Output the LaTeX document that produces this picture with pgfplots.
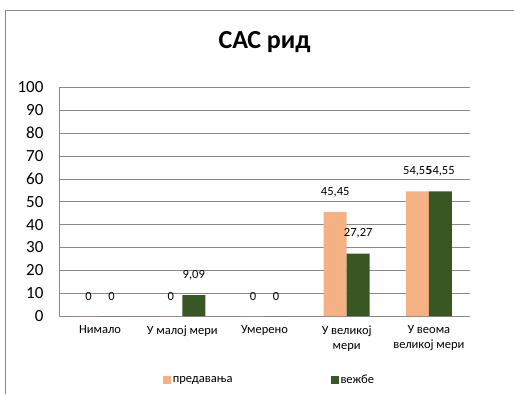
\documentclass[border=0pt]{standalone}
\usepackage{fontspec}
\setmainfont{Carlito}
\usepackage{pgfplots}
\pgfplotsset{compat=1.18}
\definecolor{lecture}{HTML}{F4B183}
\definecolor{exercise}{HTML}{385723}
\definecolor{gridgray}{HTML}{898989}

\begin{document}
\begin{tikzpicture}
\path[use as bounding box] (0,0) rectangle (514pt,394pt);
\draw[gridgray, line width=0.8pt] (5pt,0) -- (5pt,384pt) -- (514pt,384pt);
\begin{axis}[
    at={(59pt,78pt)}, anchor=south west,
    scale only axis,
    width=411pt, height=228.5pt,
    ybar=0pt, bar width=23pt,
    xmin=-0.5, xmax=4.5,
    ymin=0, ymax=100,
    ytick={0,10,...,100},
    xtick=data,
    xticklabels={Нимало, У малој мери, Умерено, {У великој\\мери}, {У веома\\великој мери}},
    xticklabel style={align=center, font=\fontsize{12.5}{15}\selectfont, yshift=-6pt},
    yticklabel style={font=\fontsize{17}{19}\selectfont, xshift=-12pt},
    major tick length=0pt,
    axis x line*=bottom, axis y line*=left,
    axis line style={draw=gridgray, line width=0.8pt, -},
    ymajorgrids, grid style={draw=gridgray, line width=0.8pt},
    /pgf/number format/.cd, use comma, fixed, precision=2, assume math mode=true,
    /pgfplots/.cd,
    nodes near coords,
    every node near coord/.append style={font=\fontsize{12.5}{15}\selectfont, anchor=center, yshift=20pt, black},
    title={\textbf{САС рид}},
    title style={at={(0.5,1)}, anchor=center, yshift=39pt, font=\fontsize{26}{30}\selectfont},
    legend style={at={(0.512,-0.28)}, anchor=center, draw=none, legend columns=2,
        font=\fontsize{12.5}{15}\selectfont,
        /tikz/every even column/.append style={column sep=96pt}},
    legend image code/.code={\fill[#1] (0pt,-4pt) rectangle (8pt,4pt);},
]
\addplot[fill=lecture, draw=none] coordinates {(0,0) (1,0) (2,0) (3,45.45) (4,54.55)};
\addplot[fill=exercise, draw=none] coordinates {(0,0) (1,9.09) (2,0) (3,27.27) (4,54.55)};
\legend{предавања, вежбе}
\end{axis}
\end{tikzpicture}
\end{document}
